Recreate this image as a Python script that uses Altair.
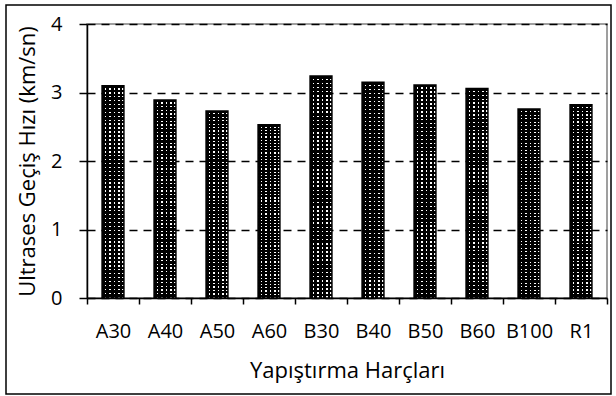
import altair as alt
import pandas as pd

# Ultrasonic pulse velocity for each bonding mortar
mixes = ["A30", "A40", "A50", "A60", "B30", "B40", "B50", "B60", "B100", "R1"]
velocity = [3.10, 2.89, 2.73, 2.53, 3.24, 3.15, 3.11, 3.06, 2.76, 2.82]
y_ticks = [0, 1, 2, 3, 4]

df = pd.DataFrame({"Harç": mixes, "Hız": velocity})

FONT = "Open Sans"
INK = "#000000"
CLEAR = "rgba(0,0,0,0)"


def stripes(count, rows, ink=0.62):
    """Hard-edged black/transparent stripes used to build a dotted fill."""
    stops = []
    for i in range(count):
        a, b, c = i / count, (i + ink) / count, (i + 1) / count
        stops += [
            alt.GradientStop(color=INK, offset=a),
            alt.GradientStop(color=INK, offset=b),
            alt.GradientStop(color=CLEAR, offset=b),
            alt.GradientStop(color=CLEAR, offset=c),
        ]
    if rows:
        return alt.LinearGradient(gradient="linear", stops=stops, x1=0, y1=0, x2=0, y2=1)
    return alt.LinearGradient(gradient="linear", stops=stops, x1=0, y1=0, x2=1, y2=0)


x_enc = alt.X(
    "Harç:N",
    sort=mixes,
    scale=alt.Scale(paddingInner=0, paddingOuter=0),
    axis=alt.Axis(
        title="Yapıştırma Harçları",
        labelAngle=0,
        tickBand="extent",
        tickSize=6,
        tickWidth=1.5,
        tickColor=INK,
        domainColor=INK,
        domainWidth=1.5,
        labelFont=FONT,
        labelFontSize=20,
        labelColor=INK,
        labelBaseline="alphabetic",
        labelPadding=33,
        titleFont=FONT,
        titleFontSize=22,
        titleFontWeight="normal",
        titleColor=INK,
        titleX=260,
        titleY=79,
        titleBaseline="alphabetic",
        grid=False,
    ),
)

y_enc = alt.Y(
    "Hız:Q",
    scale=alt.Scale(domain=[0, 4], nice=False),
    axis=alt.Axis(
        values=y_ticks,
        format="d",
        title="Ultrases Geçiş Hızı (km/sn)",
        grid=True,
        gridDash=[8, 6],
        gridColor=INK,
        gridWidth=1.5,
        gridOpacity=1,
        tickSize=8,
        tickWidth=1.5,
        tickColor=INK,
        domainColor=INK,
        domainWidth=1.5,
        labelFont=FONT,
        labelFontSize=20,
        labelColor=INK,
        labelPadding=17,
        titleFont=FONT,
        titleFontSize=22,
        titleFontWeight="normal",
        titleColor=INK,
        titleAngle=270,
        titleX=-53,
        titleY=137,
        titleAlign="center",
        titleBaseline="alphabetic",
    ),
)

bar_width = alt.RelativeBandSize(band=0.42)
base = alt.Chart(df).encode(x=x_enc, y=y_enc)

# dotted bar fill: white paper under crossed black stripes
paper = base.mark_bar(width=bar_width, fill="white", strokeWidth=0)
rows = base.mark_bar(width=bar_width, fill=stripes(54, True), strokeWidth=0)
cols = base.mark_bar(width=bar_width, fill=stripes(5, False), strokeWidth=0)
outline = base.mark_bar(
    width=bar_width, fill="white", fillOpacity=0, stroke=INK, strokeWidth=1.5
)

# border around the whole figure
frame = (
    alt.Chart(pd.DataFrame({"k": [0]}))
    .mark_rect(fill="white", fillOpacity=0, stroke=INK, strokeWidth=1.5)
    .encode(
        x=alt.value(-81),
        x2=alt.value(524),
        y=alt.value(-19),
        y2=alt.value(370),
    )
)

chart = (
    alt.layer(paper, rows, cols, outline, frame)
    .properties(
        width=520,
        height=274,
        autosize=alt.AutoSizeParams(type="none"),
        padding={"left": 87, "top": 24, "right": 9, "bottom": 98},
        background="white",
    )
    .configure_view(stroke="#808080", strokeWidth=1.5)
)

chart.save("out.html", embed_options={"renderer": "svg", "actions": False})
